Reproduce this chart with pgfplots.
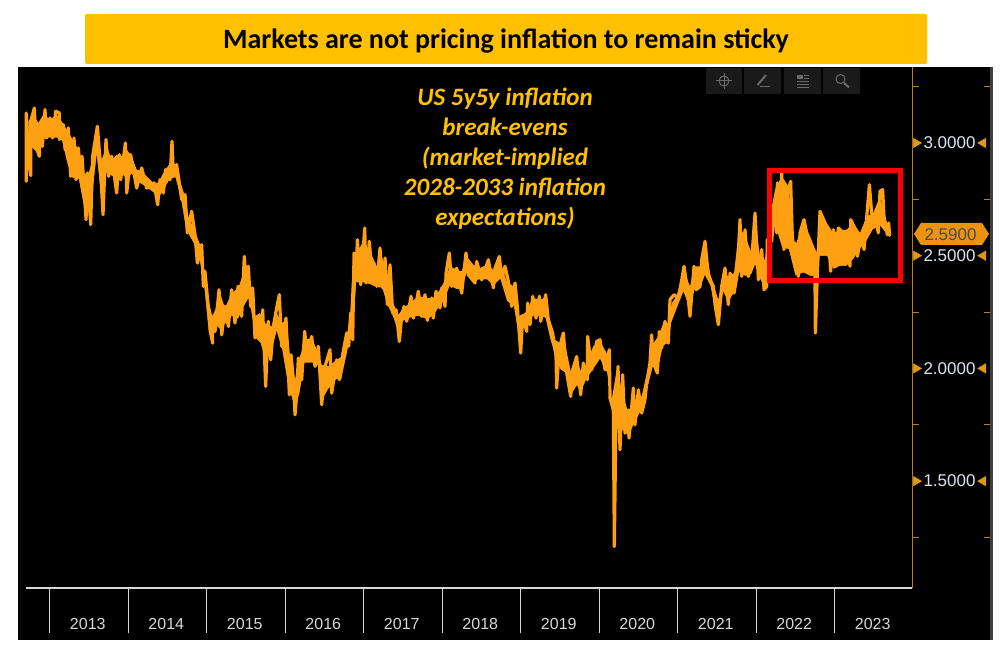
\documentclass[border=0pt]{standalone}
\usepackage{fontspec}
\setmainfont{Carlito}
\newfontfamily\axfont{Liberation Sans}
\usepackage{pgfplots}
\pgfplotsset{compat=1.18}
\definecolor{banner}{HTML}{FFC000}
\definecolor{series}{HTML}{FF9F12}
\definecolor{axisorange}{HTML}{B8801A}
\definecolor{tickarrow}{HTML}{E0981C}
\definecolor{ticktext}{HTML}{DCE6F2}
\definecolor{yeartext}{HTML}{D8D8D8}
\definecolor{btn}{HTML}{1A1A1A}
\definecolor{icon}{HTML}{6A6A6A}
% highs and lows of the daily swing
\pgfplotstableread{
t v
2012.698 2.830
2012.698 3.133
2012.724 2.926
2012.754 2.855
2012.754 3.096
2012.800 3.155
2012.822 2.985
2012.864 2.941
2012.873 3.089
2012.902 2.985
2012.936 3.148
2012.957 3.022
2013.000 3.111
2013.034 3.022
2013.072 3.141
2013.119 3.133
2013.119 3.015
2013.170 3.081
2013.191 2.971
2013.233 3.067
2013.263 2.852
2013.306 3.022
2013.331 2.837
2013.361 2.978
2013.395 2.837
2013.408 2.941
2013.459 2.660
2013.476 2.867
2013.518 2.638
2013.543 2.941
2013.603 3.074
2013.637 2.926
2013.675 2.682
2013.713 3.015
2013.747 2.852
2013.785 2.941
2013.849 2.778
2013.883 2.948
2013.900 2.837
2013.960 3.000
2013.977 2.778
2014.027 2.948
2014.104 2.800
2014.168 2.889
2014.231 2.800
2014.325 2.823
2014.371 2.726
2014.401 2.837
2014.444 2.778
2014.473 2.882
2014.528 2.837
2014.554 3.008
2014.571 2.867
2014.613 2.904
2014.677 2.749
2014.720 2.771
2014.749 2.601
2014.804 2.697
2014.847 2.593
2014.877 2.467
2014.932 2.549
2014.953 2.364
2014.974 2.431
2015.046 2.157
2015.072 2.112
2015.064 2.231
2015.102 2.164
2015.153 2.349
2015.187 2.149
2015.229 2.275
2015.272 2.186
2015.314 2.349
2015.356 2.201
2015.395 2.364
2015.441 2.231
2015.475 2.497
2015.505 2.349
2015.526 2.453
2015.556 2.275
2015.582 2.357
2015.611 2.135
2015.654 2.231
2015.684 2.127
2015.709 2.260
2015.747 1.920
2015.781 2.209
2015.811 2.038
2015.845 2.186
2015.887 2.268
2015.921 2.327
2015.951 2.098
2016.006 2.223
2016.049 1.883
2016.070 2.061
2016.100 1.950
2016.121 1.794
2016.142 1.883
2016.163 2.046
2016.206 1.950
2016.244 2.164
2016.278 2.038
2016.333 2.142
2016.376 2.009
2016.418 2.098
2016.461 1.839
2016.503 2.009
2016.567 2.083
2016.588 1.890
2016.652 2.038
2016.686 1.950
2016.728 2.061
2016.779 2.157
2016.805 2.098
2016.830 2.246
2016.856 2.127
2016.873 2.512
2016.898 2.393
2016.915 2.571
2016.958 2.371
2017.009 2.623
2017.026 2.379
2017.068 2.564
2017.110 2.379
2017.127 2.468
2017.161 2.364
2017.204 2.534
2017.238 2.357
2017.268 2.490
2017.297 2.283
2017.331 2.460
2017.365 2.246
2017.408 2.260
2017.450 2.120
2017.480 2.231
2017.510 2.275
2017.544 2.209
2017.599 2.320
2017.629 2.223
2017.692 2.342
2017.735 2.231
2017.777 2.327
2017.807 2.213
2017.862 2.312
2017.883 2.223
2017.917 2.342
2017.968 2.268
2017.989 2.357
2018.032 2.275
2018.045 2.423
2018.087 2.512
2018.117 2.364
2018.180 2.445
2018.244 2.334
2018.299 2.512
2018.329 2.416
2018.414 2.379
2018.435 2.475
2018.499 2.393
2018.584 2.482
2018.648 2.357
2018.669 2.445
2018.724 2.497
2018.754 2.401
2018.796 2.453
2018.839 2.386
2018.881 2.275
2018.924 2.379
2018.953 2.275
2018.996 2.068
2019.021 2.231
2019.072 2.164
2019.085 2.290
2019.115 2.194
2019.149 2.320
2019.191 2.223
2019.234 2.320
2019.251 2.209
2019.314 2.327
2019.348 2.216
2019.403 2.157
2019.446 2.053
2019.454 1.913
2019.488 2.090
2019.539 2.157
2019.582 1.979
2019.633 1.876
2019.658 1.994
2019.709 2.053
2019.760 1.883
2019.794 2.024
2019.845 1.950
2019.849 2.142
2019.900 1.994
2019.964 2.120
2020.006 2.127
2020.070 1.994
2020.125 2.083
2020.134 1.868
2020.176 1.816
2020.189 1.210
2020.210 1.802
2020.236 2.009
2020.261 1.639
2020.295 1.972
2020.325 1.713
2020.367 1.816
2020.376 1.691
2020.431 1.913
2020.452 1.750
2020.495 1.905
2020.537 1.802
2020.579 1.861
2020.601 1.935
2020.643 2.024
2020.664 2.149
2020.686 2.024
2020.737 1.979
2020.762 2.164
2020.792 2.090
2020.834 2.209
2020.877 2.112
2020.898 2.305
2020.949 2.327
2021.005 2.312
2021.026 2.349
2021.077 2.453
2021.119 2.349
2021.153 2.231
2021.204 2.453
2021.230 2.349
2021.281 2.364
2021.302 2.482
2021.344 2.564
2021.387 2.408
2021.450 2.364
2021.472 2.283
2021.514 2.194
2021.556 2.364
2021.599 2.445
2021.641 2.283
2021.663 2.423
2021.714 2.334
2021.756 2.423
2021.790 2.660
2021.811 2.408
2021.854 2.615
2021.896 2.408
2021.939 2.482
2021.981 2.689
2022.024 2.393
2022.066 2.527
2022.096 2.349
2022.130 2.364
2022.138 2.571
2022.193 2.564
2022.236 2.734
2022.257 2.601
2022.266 2.823
2022.300 2.630
2022.321 2.867
2022.350 2.527
2022.384 2.763
2022.435 2.830
2022.461 2.527
2022.491 2.556
2022.533 2.408
2022.554 2.601
2022.605 2.660
2022.639 2.601
2022.682 2.482
2022.745 2.408
2022.750 2.157
2022.775 2.423
2022.809 2.697
2022.873 2.645
2022.915 2.586
2022.945 2.431
2022.979 2.615
2023.013 2.453
2023.043 2.623
2023.085 2.608
2023.106 2.467
2023.149 2.608
2023.191 2.453
2023.200 2.660
2023.242 2.630
2023.285 2.497
2023.340 2.601
2023.370 2.527
2023.438 2.815
2023.467 2.689
2023.510 2.675
2023.552 2.601
2023.573 2.786
2023.607 2.793
2023.624 2.675
2023.667 2.593
2023.684 2.645
2023.695 2.590
}\breakeven
% solid part of the band, upper and lower edge
\pgfplotstableread{
t hi lo
2012.724 3.096 2.985
2012.788 3.126 2.971
2012.851 3.089 2.948
2012.915 3.126 3.015
2013.000 3.104 3.022
2013.085 3.126 3.022
2013.148 3.096 3.008
2013.212 3.059 2.911
2013.276 3.022 2.845
2013.361 2.971 2.837
2013.425 2.867 2.719
2013.488 2.860 2.675
2013.552 2.941 2.793
2013.594 3.045 2.926
2013.658 2.926 2.719
2013.722 2.985 2.867
2013.785 2.926 2.852
2013.849 2.948 2.845
2013.913 2.941 2.860
2013.977 2.971 2.837
2014.040 2.941 2.860
2014.104 2.882 2.830
2014.168 2.874 2.815
2014.231 2.852 2.800
2014.316 2.823 2.778
2014.380 2.823 2.749
2014.444 2.867 2.786
2014.528 2.911 2.837
2014.592 2.904 2.845
2014.656 2.830 2.763
2014.720 2.763 2.630
2014.762 2.675 2.593
2014.847 2.608 2.541
2014.911 2.549 2.460
2014.962 2.423 2.349
2015.017 2.305 2.157
2015.068 2.231 2.120
2015.123 2.275 2.186
2015.165 2.334 2.172
2015.229 2.268 2.194
2015.314 2.334 2.231
2015.399 2.357 2.216
2015.463 2.423 2.268
2015.526 2.408 2.305
2015.569 2.349 2.231
2015.611 2.231 2.135
2015.675 2.246 2.112
2015.739 2.201 2.038
2015.823 2.186 2.068
2015.887 2.246 2.157
2015.951 2.201 2.083
2016.015 2.216 1.950
2016.057 2.053 1.890
2016.121 1.950 1.816
2016.185 2.053 1.890
2016.248 2.127 2.024
2016.333 2.135 2.024
2016.418 2.068 2.009
2016.461 2.016 1.853
2016.545 2.009 1.905
2016.652 2.038 1.950
2016.716 2.053 1.950
2016.779 2.142 2.053
2016.822 2.231 2.127
2016.864 2.512 2.157
2016.907 2.512 2.379
2016.992 2.564 2.379
2017.077 2.519 2.371
2017.161 2.453 2.357
2017.225 2.497 2.357
2017.289 2.423 2.283
2017.353 2.305 2.238
2017.437 2.238 2.157
2017.501 2.268 2.209
2017.586 2.290 2.223
2017.692 2.320 2.231
2017.798 2.312 2.216
2017.883 2.312 2.231
2017.968 2.349 2.275
2018.032 2.393 2.305
2018.096 2.453 2.364
2018.180 2.438 2.349
2018.244 2.430 2.349
2018.308 2.497 2.416
2018.393 2.460 2.386
2018.478 2.445 2.393
2018.563 2.460 2.393
2018.648 2.438 2.364
2018.733 2.475 2.393
2018.817 2.386 2.297
2018.902 2.364 2.275
2018.966 2.231 2.142
2019.051 2.246 2.186
2019.157 2.312 2.231
2019.242 2.305 2.231
2019.306 2.312 2.223
2019.369 2.201 2.127
2019.433 2.127 2.053
2019.497 2.112 1.994
2019.560 2.112 1.979
2019.633 1.987 1.876
2019.709 2.038 1.920
2019.773 1.979 1.898
2019.836 2.024 1.950
2019.921 2.098 1.994
2020.006 2.120 2.038
2020.091 2.068 1.979
2020.155 1.861 1.802
2020.219 1.994 1.728
2020.282 1.905 1.728
2020.367 1.802 1.698
2020.452 1.861 1.757
2020.537 1.876 1.816
2020.622 2.009 1.920
2020.686 2.112 2.009
2020.749 2.142 1.994
2020.813 2.201 2.098
2020.877 2.201 2.112
2020.920 2.290 2.201
2020.983 2.320 2.260
2021.068 2.438 2.334
2021.153 2.364 2.260
2021.217 2.453 2.349
2021.281 2.453 2.349
2021.344 2.541 2.408
2021.408 2.423 2.364
2021.472 2.349 2.246
2021.514 2.305 2.201
2021.578 2.423 2.334
2021.641 2.408 2.290
2021.714 2.423 2.334
2021.782 2.630 2.423
2021.854 2.586 2.408
2021.939 2.512 2.416
2021.981 2.660 2.453
2022.045 2.497 2.393
2022.108 2.482 2.349
2022.172 2.675 2.564
2022.236 2.793 2.630
2022.321 2.852 2.534
2022.406 2.808 2.527
2022.491 2.541 2.408
2022.597 2.645 2.423
2022.682 2.586 2.408
2022.767 2.512 2.408
2022.809 2.689 2.497
2022.894 2.645 2.497
2022.979 2.601 2.438
2023.064 2.615 2.453
2023.149 2.615 2.453
2023.234 2.645 2.482
2023.319 2.601 2.527
2023.404 2.675 2.564
2023.488 2.689 2.615
2023.573 2.763 2.630
2023.658 2.645 2.593
}\band
\begin{document}
\begin{tikzpicture}
\path[use as bounding box,fill=white] (0,0) rectangle (1005pt,657pt);
\fill[black] (18pt,17pt) rectangle (993pt,590pt);
\fill[black!75] (990pt,17pt) rectangle (993pt,590pt);
\begin{axis}[
    at={(18pt,69pt)},anchor=south west,
    scale only axis,width=894pt,height=521pt,
    xmin=2012.592,xmax=2023.981,ymin=1.026,ymax=3.337,
    clip=false,
    axis x line=bottom,axis y line=right,
    x axis line style={-,draw=none},
    y axis line style={-,color=axisorange,line width=1pt},
    xtick={2013.5,2014.5,2015.5,2016.5,2017.5,2018.5,2019.5,2020.5,2021.5,2022.5,2023.5},
    xticklabels={2013,2014,2015,2016,2017,2018,2019,2020,2021,2022,2023},
    xticklabel style={font=\axfont\fontsize{16}{16}\selectfont,text=yeartext,yshift=-27pt,xshift=-1.5pt},
    ytick={1.5,2,2.5,3},
    minor ytick={1.25,1.75,2.25,2.75,3.25},
    major tick length=0pt,minor tick length=7pt,
    tick align=outside,
    minor y tick style={color=axisorange,line width=1pt},
    yticklabel style={font=\axfont\fontsize{17}{17}\selectfont,text=ticktext,xshift=8pt,
      /pgf/number format/fixed,/pgf/number format/fixed zerofill,/pgf/number format/precision=4,/pgf/number format/assume math mode=true},
]
% band: upper edge filled down, then black from the lower edge down
\addplot[fill=series,draw=none,forget plot] table[x=t,y=hi] {\band} \closedcycle;
\addplot[fill=black,draw=black,line width=1pt,forget plot] table[x=t,y=lo] {\band} \closedcycle;
\addplot[draw=yeartext,line width=1.5pt,forget plot] coordinates {(2012.695,1.026) (2023.981,1.026)};
\addplot[series,line width=3.2pt,line join=round,line cap=round] table[x=t,y=v] {\breakeven};
% tick arrows either side of the labels
\addplot[only marks,mark=triangle*,mark size=6.5pt,mark options={rotate=-90,fill=tickarrow,draw=none}] coordinates {(2024.035,1.5) (2024.035,2) (2024.035,2.5) (2024.035,3)};
\addplot[only marks,mark=triangle*,mark size=6.5pt,mark options={rotate=90,fill=tickarrow,draw=none}] coordinates {(2024.885,1.5) (2024.885,2) (2024.885,2.5) (2024.885,3)};
\addplot[only marks,mark=-,mark size=3pt,mark options={draw=axisorange,line width=1pt}] coordinates {(2024.936,1.25) (2024.936,1.75) (2024.936,2.25) (2024.936,2.75) (2024.936,3.25)};
\end{axis}
\begin{scope}[x=1pt,y=-1pt,yshift=657pt]
  \foreach \i in {0,...,10}{\draw[yeartext,line width=0.7pt] ({49.5+78.5*\i},589) -- ({49.5+78.5*\i},633);}
  \fill[series!92!black] (914,234) -- (921,223) -- (982,223) -- (989,234) -- (982,245) -- (921,245) -- cycle;
  \node[font=\axfont\fontsize{17}{17}\selectfont,text=black!70] at (950.5,234.5) {2.5900};
  \fill[banner,rounded corners=1.5pt] (85,14) rectangle (927,64);
  \node[font=\fontsize{28}{28}\selectfont\bfseries,text=black] at (506,41) {Markets are not pricing inflation to remain sticky};
  \node[align=center,font=\fontsize{25}{30}\selectfont\bfseries\itshape,text=banner] at (505,159)
    {US 5y5y inflation\\break-evens\\(market-implied\\2028-2033 inflation\\expectations)};
  \draw[red,line width=4.5pt] (769.5,170.5) rectangle (900.5,280.5);
  % toolbar
  \foreach \a/\b in {705.5/742,744/781,784/820.5,823/860}{\fill[btn] (\a,68.5) rectangle (\b,94);}
  \draw[icon,line width=1pt] (724,81) circle (5);
  \draw[icon,line width=1pt] (716,81) -- (732,81) (724,73) -- (724,89);
  \draw[icon,line width=2pt] (757.5,85) -- (766,75);
  \draw[icon,line width=1pt] (760,87) -- (770,87);
  \fill[icon] (797,75) rectangle (803,79);
  \draw[icon,line width=1pt] (804,75.5) -- (809,75.5) (804,78.5) -- (809,78.5) (797,81.5) -- (809,81.5) (797,84.5) -- (809,84.5) (797,87.5) -- (809,87.5);
  \draw[icon,line width=1pt] (840.5,79) circle (4.5);
  \draw[icon,line width=2pt] (844,83) -- (849,87.5);
\end{scope}
\end{tikzpicture}
\end{document}
